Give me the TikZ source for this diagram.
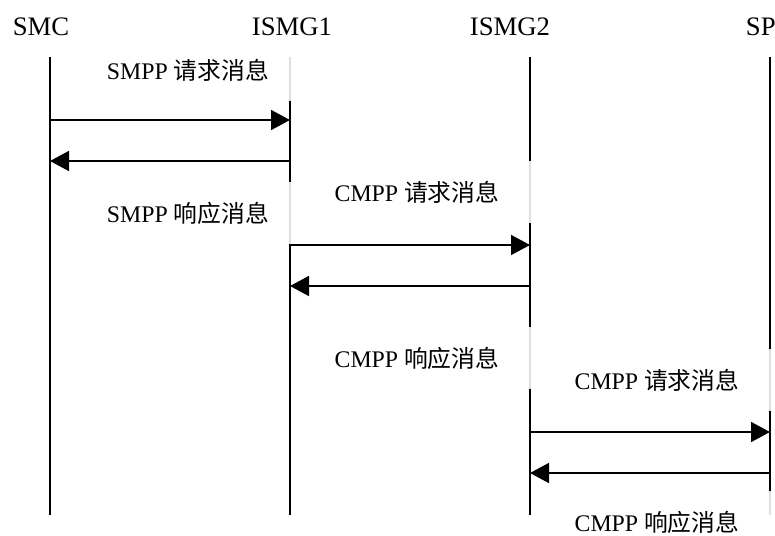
\documentclass[tikz,border=0pt]{standalone}
\usepackage{fontspec}
\setmainfont{Liberation Serif}
\newfontfamily\cjk{Noto Sans CJK SC}
\usetikzlibrary{arrows.meta}

\begin{document}
\begin{tikzpicture}[x=1pt, y=-1pt, line width=1.8pt,
    head/.style={font=\fontsize{26.7}{30}\selectfont, anchor=base, inner sep=0pt},
    msg/.style={font=\fontsize{23.8}{27}\selectfont, fill=white, fill opacity=0.88,
        text opacity=1, minimum width=230pt, minimum height=62pt, inner sep=0pt},
    call/.style={line width=1.6pt, -{Triangle[length=19pt,width=20pt]}}]
    \useasboundingbox (0,0) rectangle (775,535);
    % entities
    \node[head] (smc) at (41,36) {SMC};
    \node[head] (ismg1) at (292,36) {ISMG1};
    \node[head] (ismg2) at (510,36) {ISMG2};
    \node[head, anchor=base west] (sp) at (745,36) {SP};
    % lifelines
    \foreach \n/\x in {smc/50, ismg1/290, ismg2/530, sp/770} {
        \coordinate (\n-top) at (\x,57);
        \coordinate (\n-bot) at (\x,515);
        \draw (\n-top) -- (\n-bot);
        \foreach \i/\y in {1/120, 2/161, 3/245, 4/286, 5/432, 6/473}
            \coordinate (\n-\i) at (\x,\y);
    }
    % message texts
    \node[msg] (smppreq) at (188,70) {SMPP {\cjk 请求消息}};
    \node[msg] (smppresp) at (188,213) {SMPP {\cjk 响应消息}};
    \node[msg] (cmppreqa) at (417,192) {CMPP {\cjk 请求消息}};
    \node[msg] (cmpprespa) at (417,358) {CMPP {\cjk 响应消息}};
    \node[msg] (cmppreqb) at (657,380) {CMPP {\cjk 请求消息}};
    \node[msg] (cmpprespb) at (657,522) {CMPP {\cjk 响应消息}};
    % messages
    \draw[call] (smc-1) -- (ismg1-1);
    \draw[call] (ismg1-2) -- (smc-2);
    \draw[call] (ismg1-3) -- (ismg2-3);
    \draw[call] (ismg2-4) -- (ismg1-4);
    \draw[call] (ismg2-5) -- (sp-5);
    \draw[call] (sp-6) -- (ismg2-6);
\end{tikzpicture}
\end{document}
